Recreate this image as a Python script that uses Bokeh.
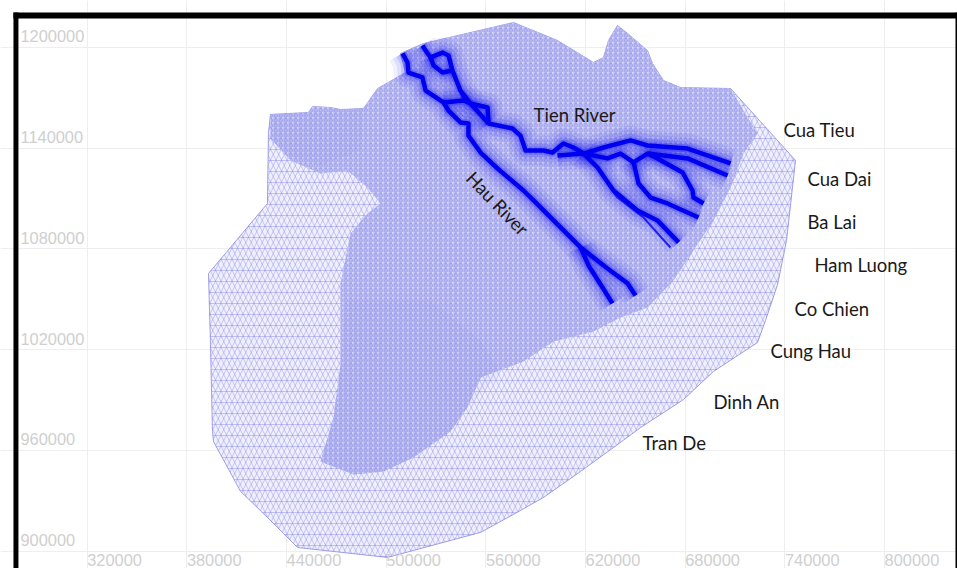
from bokeh.core.properties import value
from bokeh.embed import file_html
from bokeh.models import ColumnDataSource, FixedTicker, Grid, Range1d
from bokeh.plotting import figure
from bokeh.resources import INLINE

x_ticks = [320000, 380000, 440000, 500000, 560000, 620000, 680000, 740000, 800000]
y_ticks = [900000, 960000, 1020000, 1080000, 1140000, 1200000]

# outline of the model domain
domain_x = [508600, 522400, 576600, 603100, 624800, 630800, 633800, 639200, 645300, 657300, 660300, 666900,
            677200, 707300, 746400, 741000, 735600, 728300, 723500, 697000, 679000, 653100, 636800, 617000,
            594700, 576600, 556800, 500800, 446600, 428500, 412300, 396000, 395400, 394200, 393000, 428500,
            429100, 430300, 453200, 455600, 466500, 472500, 486300, 494800, 508600, 511600]
domain_y = [1196300, 1202200, 1214700, 1204000, 1190900, 1193900, 1204000, 1212900, 1208200, 1198000, 1190300,
            1180200, 1176000, 1175400, 1132600, 1085000, 1058800, 1037300, 1024200, 1007000, 990300, 973600,
            961700, 947500, 932000, 921900, 911200, 896300, 902200, 920100, 935600, 965300, 971300, 1023100,
            1065300, 1107000, 1148600, 1160000, 1161100, 1164700, 1164100, 1162900, 1163500, 1175400, 1183200,
            1184900]

# part of the domain where the mesh is refined
fine_x = [430300, 453200, 455600, 466500, 472500, 486300, 494800, 508600, 511600, 508600, 522400, 576600, 603100,
          624800, 630800, 633800, 639200, 645300, 657300, 660300, 666900, 677200, 707300, 715100, 723500, 715100,
          707300, 697000, 672900, 657300, 641000, 624800, 600700, 582600, 556800, 548900, 538700, 516400, 498400,
          480300, 460400, 468300, 472500, 472500, 472500, 478500, 488700, 496600, 488700, 476700, 460400, 442400,
          430300]
fine_y = [1160000, 1161100, 1164700, 1164100, 1162900, 1163500, 1175400, 1183200, 1184900, 1196300, 1202200,
          1214700, 1204000, 1190900, 1193900, 1204000, 1212900, 1208200, 1198000, 1190300, 1180200, 1176000,
          1175400, 1162300, 1148600, 1136700, 1116500, 1096900, 1061100, 1045100, 1039100, 1030800, 1024800,
          1012900, 1003400, 985600, 971300, 955800, 947500, 945700, 953400, 979600, 1011100, 1039100, 1059400,
          1089100, 1101000, 1107000, 1116500, 1126600, 1124800, 1132600, 1145700]

# the two darkest, most refined patches
band_x = [430300, 472500, 486300, 484500, 460400, 442400, 430300]
band_y = [1160000, 1162900, 1163500, 1138500, 1129600, 1135500, 1145700]
blob_x = [475500, 526700, 556800, 568800, 548900, 538700, 516400, 498400, 480300, 460400, 468300, 472500]
blob_y = [1049200, 1049200, 1025400, 1006400, 985600, 971300, 955800, 947500, 945700, 953400, 979600, 1011100]

# river channels, heavy ones first
hau_x = [509800, 512800, 513400, 521800, 523700, 534500, 537500, 544700, 549500, 549500, 556800, 567000, 582600,
         589900, 600700, 617000, 633200, 645300, 650100]
hau_y = [1196300, 1190900, 1184900, 1182000, 1174200, 1167100, 1162300, 1155200, 1154600, 1147400, 1137300,
         1127800, 1114700, 1107600, 1096900, 1080800, 1068300, 1059400, 1052200]
hau_west_x = [617000, 621800, 630200, 636200]
hau_west_y = [1080800, 1070100, 1057000, 1047500]
tien_x = [521800, 524900, 526700, 533900, 537500, 539900, 544700, 550700, 561000, 561600, 576000, 580800, 583900,
          594700, 600100, 606700, 612700, 618800, 630800, 647100, 657300, 681400, 707300]
tien_y = [1201000, 1196300, 1193900, 1196800, 1195100, 1186100, 1174200, 1166500, 1164100, 1154600, 1151600,
          1147400, 1138500, 1138500, 1137300, 1142700, 1140300, 1136700, 1140300, 1144500, 1141500, 1139700, 1130800]
loop_x = [526700, 528500, 533900, 539900]
loop_y = [1193900, 1189100, 1184900, 1186100]
link_x = [534500, 546500, 550700, 561600]
link_y = [1167100, 1168300, 1166500, 1154600]
ham_luong_x = [603100, 618800, 633200, 641000, 648900, 657300, 681400, 705500]
ham_luong_y = [1135500, 1136700, 1133800, 1136700, 1131400, 1136700, 1133800, 1123600]
ba_lai_x = [657300, 663300, 678400, 684400, 685000, 691000]
ba_lai_y = [1136700, 1133800, 1125400, 1114700, 1110500, 1107000]
cua_dai_x = [648900, 651900, 659100, 669300, 688000]
cua_dai_y = [1131400, 1118900, 1110500, 1107000, 1098600]
co_chien_x = [618800, 627200, 636800, 651300, 663300, 676000]
co_chien_y = [1136700, 1128400, 1114700, 1102800, 1096900, 1083800]
co_chien_thin_x = [629000, 639200, 654900, 671100]
co_chien_thin_y = [1124800, 1110500, 1098600, 1080800]
side_x = [539900, 546500]
side_y = [1186100, 1168300]

names = ["Tien River", "Cua Tieu", "Cua Dai", "Ba Lai", "Ham Luong", "Co Chien", "Cung Hau", "Dinh An", "Tran De"]
names_x = [588700, 739200, 753600, 753600, 757800, 745800, 731300, 697000, 654300]
names_y = [1159400, 1151000, 1121300, 1095700, 1070100, 1043900, 1018900, 989100, 964700]

BLUE = "#0000f0"
X_START, X_END = 267800, 843900
Y_START, Y_END = 889700, 1227800

p = figure(width=957, height=568, output_backend="svg", toolbar_location=None,
           x_axis_type=None, y_axis_type=None, tools="",
           x_range=Range1d(X_START, X_END), y_range=Range1d(Y_START, Y_END),
           min_border=0, outline_line_color=None, background_fill_color="white")

p.add_layout(Grid(dimension=0, ticker=FixedTicker(ticks=x_ticks), grid_line_color="#eeeeee"))
p.add_layout(Grid(dimension=1, ticker=FixedTicker(ticks=y_ticks), grid_line_color="#eeeeee"))

# the mesh: coarse weave over the whole domain, fine weave over the refined part
p.patch(domain_x, domain_y, fill_color="#f0f0fd", line_color="#a0a0e8", line_width=1)
for pattern in ["horizontal_line", "right_diagonal_line", "left_diagonal_line"]:
    p.patch(domain_x, domain_y, fill_alpha=0, line_alpha=0, hatch_pattern=pattern, hatch_scale=11,
            hatch_color="#8080e6", hatch_weight=0.6, hatch_alpha=0.7)

p.patch(fine_x, fine_y, fill_color="#bfc0f1", line_alpha=0)
for pattern in ["horizontal_line", "right_diagonal_line", "left_diagonal_line"]:
    p.patch(fine_x, fine_y, fill_alpha=0, line_alpha=0, hatch_pattern=pattern, hatch_scale=5,
            hatch_color="#6a6ae6", hatch_weight=0.4, hatch_alpha=0.6)
p.patch(fine_x, fine_y, fill_alpha=0, line_alpha=0, hatch_pattern="dot", hatch_scale=5,
        hatch_color="white", hatch_weight=1, hatch_alpha=0.45)
p.patch(band_x, band_y, fill_color="#7a7ae6", fill_alpha=0.07, line_alpha=0)
p.patch(blob_x, blob_y, fill_color="#7a7ae6", fill_alpha=0.07, line_alpha=0)

heavy_x = [hau_x, hau_west_x, tien_x, loop_x, link_x, ham_luong_x, ba_lai_x, cua_dai_x, co_chien_x]
heavy_y = [hau_y, hau_west_y, tien_y, loop_y, link_y, ham_luong_y, ba_lai_y, cua_dai_y, co_chien_y]
thin_x = [co_chien_thin_x, side_x]
thin_y = [co_chien_thin_y, side_y]
rivers = ColumnDataSource(dict(xs=heavy_x, ys=heavy_y))
thin_rivers = ColumnDataSource(dict(xs=thin_x, ys=thin_y))

# soft halo where the mesh gets denser towards the channels
for halo_width, halo_alpha in [(30, 0.06), (22, 0.08), (14, 0.12), (8, 0.2)]:
    p.multi_line("xs", "ys", source=rivers, line_color=BLUE, line_width=halo_width, line_alpha=halo_alpha,
                 line_join="round", line_cap="butt")
p.multi_line("xs", "ys", source=rivers, line_color=BLUE, line_width=4.5, line_join="round")
p.multi_line("xs", "ys", source=thin_rivers, line_color=BLUE, line_width=2, line_alpha=0.8, line_join="round")

font = value("Lato")
p.text(names_x, names_y, text=names, text_font=font, text_font_size="18.5px", text_color="#1a1a1a",
       text_align="left", text_baseline="middle")
p.text([567000], [1107000], text=["Hau River"], text_font=font, text_font_size="18.5px", text_color="#1a1a1a",
       text_align="center", text_baseline="middle", angle=-46, angle_units="deg")

# tick labels sit inside the frame, as in the original map viewer
tick_font = value("Liberation Sans")
p.text([X_START] * len(y_ticks), y_ticks, text=[str(t) for t in y_ticks], text_font=tick_font,
       text_font_size="16.4px", text_color="#cfcfcf", text_align="left", text_baseline="bottom",
       x_offset=20, y_offset=-5)
p.text(x_ticks, [y_ticks[0]] * len(x_ticks), text=[str(t) for t in x_ticks], text_font=tick_font,
       text_font_size="16.4px", text_color="#cfcfcf", text_align="left", text_baseline="top",
       x_offset=0, y_offset=3)

# black frame of the screenshot
p.quad(left=[275600, 275600, 842700], right=[278600, X_END, X_END], bottom=[Y_START, 1217100, Y_START],
       top=[1220700, 1220700, 1220700], fill_color="black", line_alpha=0)

open("out.html", "w").write(file_html(p, INLINE))
